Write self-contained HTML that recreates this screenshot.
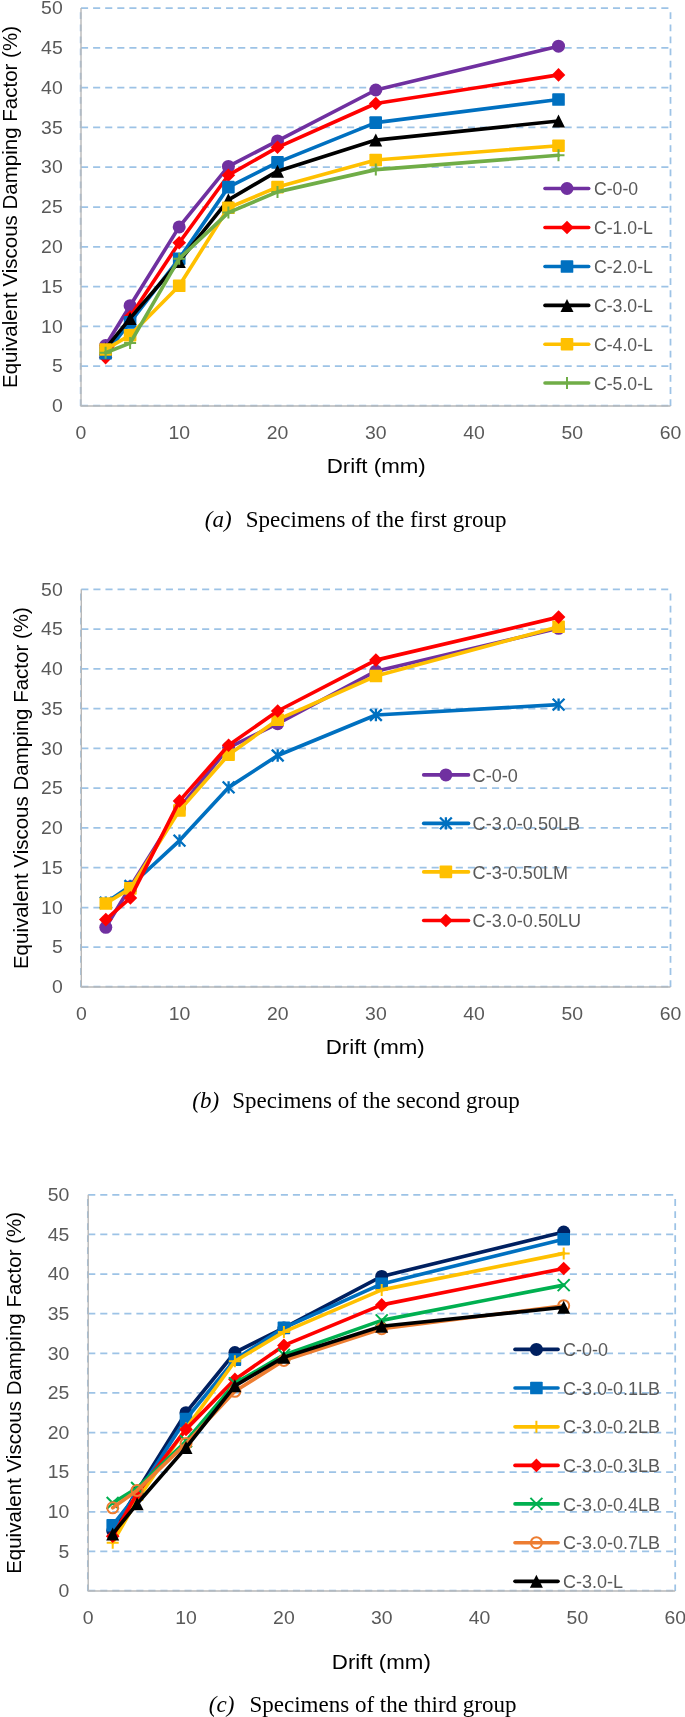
<!DOCTYPE html>
<html><head><meta charset="utf-8"><title>Equivalent Viscous Damping Factor</title>
<style>html,body{margin:0;padding:0;background:#fff;width:685px;height:1717px;overflow:hidden}svg{display:block;will-change:transform}</style>
</head><body>
<svg width="685" height="1717" viewBox="0 0 685 1717"><g stroke="#9DC3E6" stroke-width="1.75" fill="none"><g stroke-dasharray="7.1 4.99"><line x1="81.0" y1="405.6" x2="669.9" y2="405.6"/><line x1="81.0" y1="366.2" x2="669.9" y2="366.2"/><line x1="81.0" y1="326.4" x2="669.9" y2="326.4"/><line x1="81.0" y1="286.6" x2="669.9" y2="286.6"/><line x1="81.0" y1="246.8" x2="669.9" y2="246.8"/><line x1="81.0" y1="207.0" x2="669.9" y2="207.0"/><line x1="81.0" y1="167.2" x2="669.9" y2="167.2"/><line x1="81.0" y1="127.4" x2="669.9" y2="127.4"/><line x1="81.0" y1="87.6" x2="669.9" y2="87.6"/><line x1="81.0" y1="47.8" x2="669.9" y2="47.8"/><line x1="81.0" y1="8.0" x2="669.9" y2="8.0"/></g><line x1="670.5" y1="8.0" x2="670.5" y2="406.0" stroke-dasharray="6.8 5.29" stroke-dashoffset="7.79"/><line x1="80.65" y1="8.0" x2="80.65" y2="406.0" stroke-dasharray="6.8 5.29" stroke-dashoffset="7.79"/></g>
<path d="M81.0 8.0V406.0H670.5" stroke="#B8B8B8" stroke-width="1.4" fill="none"/>
<g fill="#595959" style="font-family:'Liberation Sans',sans-serif;font-size:18.5px"><text transform="translate(62.7,412.2) scale(1.05,1)" text-anchor="end">0</text><text transform="translate(62.7,372.4) scale(1.05,1)" text-anchor="end">5</text><text transform="translate(62.7,332.6) scale(1.05,1)" text-anchor="end">10</text><text transform="translate(62.7,292.8) scale(1.05,1)" text-anchor="end">15</text><text transform="translate(62.7,253.0) scale(1.05,1)" text-anchor="end">20</text><text transform="translate(62.7,213.2) scale(1.05,1)" text-anchor="end">25</text><text transform="translate(62.7,173.4) scale(1.05,1)" text-anchor="end">30</text><text transform="translate(62.7,133.6) scale(1.05,1)" text-anchor="end">35</text><text transform="translate(62.7,93.8) scale(1.05,1)" text-anchor="end">40</text><text transform="translate(62.7,54.0) scale(1.05,1)" text-anchor="end">45</text><text transform="translate(62.7,14.2) scale(1.05,1)" text-anchor="end">50</text><text transform="translate(81.0,438.7) scale(1.05,1)" text-anchor="middle">0</text><text transform="translate(179.2,438.7) scale(1.05,1)" text-anchor="middle">10</text><text transform="translate(277.5,438.7) scale(1.05,1)" text-anchor="middle">20</text><text transform="translate(375.8,438.7) scale(1.05,1)" text-anchor="middle">30</text><text transform="translate(474.0,438.7) scale(1.05,1)" text-anchor="middle">40</text><text transform="translate(572.2,438.7) scale(1.05,1)" text-anchor="middle">50</text><text transform="translate(670.5,438.7) scale(1.05,1)" text-anchor="middle">60</text></g>
<polyline points="105.6,345.5 130.1,305.7 179.2,226.9 228.4,166.4 277.5,140.9 375.8,90.0 558.5,46.2" fill="none" stroke="#7030A0" stroke-width="3.65" stroke-linejoin="round" stroke-linecap="round"/>
<circle cx="105.6" cy="345.5" r="6.50" fill="#7030A0"/><circle cx="130.1" cy="305.7" r="6.50" fill="#7030A0"/><circle cx="179.2" cy="226.9" r="6.50" fill="#7030A0"/><circle cx="228.4" cy="166.4" r="6.50" fill="#7030A0"/><circle cx="277.5" cy="140.9" r="6.50" fill="#7030A0"/><circle cx="375.8" cy="90.0" r="6.50" fill="#7030A0"/><circle cx="558.5" cy="46.2" r="6.50" fill="#7030A0"/>
<polyline points="105.6,357.6 130.1,316.8 179.2,242.8 228.4,175.2 277.5,147.3 375.8,103.5 558.5,74.9" fill="none" stroke="#FF0000" stroke-width="3.65" stroke-linejoin="round" stroke-linecap="round"/>
<polygon points="105.6,350.8 112.4,357.6 105.6,364.4 98.8,357.6" fill="#FF0000"/><polygon points="130.1,310.0 136.9,316.8 130.1,323.6 123.3,316.8" fill="#FF0000"/><polygon points="179.2,236.0 186.1,242.8 179.2,249.6 172.4,242.8" fill="#FF0000"/><polygon points="228.4,168.4 235.2,175.2 228.4,182.0 221.6,175.2" fill="#FF0000"/><polygon points="277.5,140.5 284.3,147.3 277.5,154.1 270.7,147.3" fill="#FF0000"/><polygon points="375.8,96.7 382.6,103.5 375.8,110.3 368.9,103.5" fill="#FF0000"/><polygon points="558.5,68.1 565.3,74.9 558.5,81.7 551.7,74.9" fill="#FF0000"/>
<polyline points="105.6,353.3 130.1,322.4 179.2,258.7 228.4,187.1 277.5,162.4 375.8,122.6 558.5,99.5" fill="none" stroke="#0070C0" stroke-width="3.65" stroke-linejoin="round" stroke-linecap="round"/>
<rect x="99.3" y="347.0" width="12.6" height="12.6" rx="0.9" fill="#0070C0"/><rect x="123.8" y="316.1" width="12.6" height="12.6" rx="0.9" fill="#0070C0"/><rect x="172.9" y="252.4" width="12.6" height="12.6" rx="0.9" fill="#0070C0"/><rect x="222.1" y="180.8" width="12.6" height="12.6" rx="0.9" fill="#0070C0"/><rect x="271.2" y="156.1" width="12.6" height="12.6" rx="0.9" fill="#0070C0"/><rect x="369.4" y="116.3" width="12.6" height="12.6" rx="0.9" fill="#0070C0"/><rect x="552.2" y="93.2" width="12.6" height="12.6" rx="0.9" fill="#0070C0"/>
<polyline points="105.6,348.7 130.1,318.4 179.2,261.5 228.4,199.8 277.5,171.2 375.8,140.1 558.5,121.0" fill="none" stroke="#000000" stroke-width="3.65" stroke-linejoin="round" stroke-linecap="round"/>
<polygon points="105.6,342.2 112.1,355.2 99.1,355.2" fill="#000000"/><polygon points="130.1,311.9 136.6,324.9 123.6,324.9" fill="#000000"/><polygon points="179.2,255.0 185.8,268.0 172.8,268.0" fill="#000000"/><polygon points="228.4,193.3 234.9,206.3 221.9,206.3" fill="#000000"/><polygon points="277.5,164.7 284.0,177.7 271.0,177.7" fill="#000000"/><polygon points="375.8,133.6 382.2,146.6 369.2,146.6" fill="#000000"/><polygon points="558.5,114.5 565.0,127.5 552.0,127.5" fill="#000000"/>
<polyline points="105.6,349.5 130.1,335.2 179.2,285.8 228.4,207.8 277.5,187.1 375.8,160.0 558.5,145.7" fill="none" stroke="#FFC000" stroke-width="3.65" stroke-linejoin="round" stroke-linecap="round"/>
<rect x="99.3" y="343.2" width="12.6" height="12.6" rx="0.9" fill="#FFC000"/><rect x="123.8" y="328.9" width="12.6" height="12.6" rx="0.9" fill="#FFC000"/><rect x="172.9" y="279.5" width="12.6" height="12.6" rx="0.9" fill="#FFC000"/><rect x="222.1" y="201.5" width="12.6" height="12.6" rx="0.9" fill="#FFC000"/><rect x="271.2" y="180.8" width="12.6" height="12.6" rx="0.9" fill="#FFC000"/><rect x="369.4" y="153.7" width="12.6" height="12.6" rx="0.9" fill="#FFC000"/><rect x="552.2" y="139.4" width="12.6" height="12.6" rx="0.9" fill="#FFC000"/>
<polyline points="105.6,352.7 130.1,343.1 179.2,258.7 228.4,212.6 277.5,191.9 375.8,169.6 558.5,155.3" fill="none" stroke="#70AD47" stroke-width="3.65" stroke-linejoin="round" stroke-linecap="round"/>
<path d="M99.6 352.7H111.6M105.6 346.7V358.7" stroke="#70AD47" stroke-width="2" fill="none"/><path d="M124.1 343.1H136.1M130.1 337.1V349.1" stroke="#70AD47" stroke-width="2" fill="none"/><path d="M173.2 258.7H185.2M179.2 252.7V264.7" stroke="#70AD47" stroke-width="2" fill="none"/><path d="M222.4 212.6H234.4M228.4 206.6V218.6" stroke="#70AD47" stroke-width="2" fill="none"/><path d="M271.5 191.9H283.5M277.5 185.9V197.9" stroke="#70AD47" stroke-width="2" fill="none"/><path d="M369.8 169.6H381.8M375.8 163.6V175.6" stroke="#70AD47" stroke-width="2" fill="none"/><path d="M552.5 155.3H564.5M558.5 149.3V161.3" stroke="#70AD47" stroke-width="2" fill="none"/>
<line x1="545.0" y1="188.5" x2="588.7" y2="188.5" stroke="#7030A0" stroke-width="3.65" stroke-linecap="round"/><circle cx="567.0" cy="188.5" r="6.50" fill="#7030A0"/><text transform="translate(594.0,195.1) scale(0.965,1)" fill="#595959" style="font-family:'Liberation Sans',sans-serif;font-size:18.3px">C-0-0</text><line x1="545.0" y1="227.5" x2="588.7" y2="227.5" stroke="#FF0000" stroke-width="3.65" stroke-linecap="round"/><polygon points="567.0,220.7 573.8,227.5 567.0,234.3 560.2,227.5" fill="#FF0000"/><text transform="translate(594.0,234.1) scale(0.965,1)" fill="#595959" style="font-family:'Liberation Sans',sans-serif;font-size:18.3px">C-1.0-L</text><line x1="545.0" y1="266.5" x2="588.7" y2="266.5" stroke="#0070C0" stroke-width="3.65" stroke-linecap="round"/><rect x="560.7" y="260.2" width="12.6" height="12.6" rx="0.9" fill="#0070C0"/><text transform="translate(594.0,273.1) scale(0.965,1)" fill="#595959" style="font-family:'Liberation Sans',sans-serif;font-size:18.3px">C-2.0-L</text><line x1="545.0" y1="305.4" x2="588.7" y2="305.4" stroke="#000000" stroke-width="3.65" stroke-linecap="round"/><polygon points="567.0,298.9 573.5,311.9 560.5,311.9" fill="#000000"/><text transform="translate(594.0,312.0) scale(0.965,1)" fill="#595959" style="font-family:'Liberation Sans',sans-serif;font-size:18.3px">C-3.0-L</text><line x1="545.0" y1="344.2" x2="588.7" y2="344.2" stroke="#FFC000" stroke-width="3.65" stroke-linecap="round"/><rect x="560.7" y="337.9" width="12.6" height="12.6" rx="0.9" fill="#FFC000"/><text transform="translate(594.0,350.8) scale(0.965,1)" fill="#595959" style="font-family:'Liberation Sans',sans-serif;font-size:18.3px">C-4.0-L</text><line x1="545.0" y1="383.0" x2="588.7" y2="383.0" stroke="#70AD47" stroke-width="3.65" stroke-linecap="round"/><path d="M561.0 383.0H573.0M567.0 377.0V389.0" stroke="#70AD47" stroke-width="2" fill="none"/><text transform="translate(594.0,389.6) scale(0.965,1)" fill="#595959" style="font-family:'Liberation Sans',sans-serif;font-size:18.3px">C-5.0-L</text>
<text transform="translate(376.2,473.0) scale(1.087,1)" text-anchor="middle" style="font-family:'Liberation Sans',sans-serif;font-size:20.5px">Drift (mm)</text>
<text transform="translate(16.9,207.0) rotate(-90)" text-anchor="middle" style="font-family:'Liberation Sans',sans-serif;font-size:20.5px">Equivalent Viscous Damping Factor (%)</text>
<text x="204.8" y="527.0" style="font-family:'Liberation Serif',serif;font-size:23px;font-style:italic">(a)</text>
<text x="245.8" y="527.0" style="font-family:'Liberation Serif',serif;font-size:23px">Specimens of the first group</text>
<g stroke="#9DC3E6" stroke-width="1.75" fill="none"><g stroke-dasharray="7.1 4.98"><line x1="81.3" y1="986.6" x2="669.9" y2="986.6"/><line x1="81.3" y1="947.2" x2="669.9" y2="947.2"/><line x1="81.3" y1="907.5" x2="669.9" y2="907.5"/><line x1="81.3" y1="867.7" x2="669.9" y2="867.7"/><line x1="81.3" y1="827.9" x2="669.9" y2="827.9"/><line x1="81.3" y1="788.1" x2="669.9" y2="788.1"/><line x1="81.3" y1="748.4" x2="669.9" y2="748.4"/><line x1="81.3" y1="708.6" x2="669.9" y2="708.6"/><line x1="81.3" y1="668.8" x2="669.9" y2="668.8"/><line x1="81.3" y1="629.1" x2="669.9" y2="629.1"/><line x1="81.3" y1="589.3" x2="669.9" y2="589.3"/></g><line x1="670.5" y1="589.3" x2="670.5" y2="987.0" stroke-dasharray="6.8 5.28" stroke-dashoffset="7.78"/><line x1="80.95" y1="589.3" x2="80.95" y2="987.0" stroke-dasharray="6.8 5.28" stroke-dashoffset="7.78"/></g>
<path d="M81.3 589.3V987.0H670.5" stroke="#B8B8B8" stroke-width="1.4" fill="none"/>
<g fill="#595959" style="font-family:'Liberation Sans',sans-serif;font-size:18.5px"><text transform="translate(62.7,993.2) scale(1.05,1)" text-anchor="end">0</text><text transform="translate(62.7,953.4) scale(1.05,1)" text-anchor="end">5</text><text transform="translate(62.7,913.7) scale(1.05,1)" text-anchor="end">10</text><text transform="translate(62.7,873.9) scale(1.05,1)" text-anchor="end">15</text><text transform="translate(62.7,834.1) scale(1.05,1)" text-anchor="end">20</text><text transform="translate(62.7,794.4) scale(1.05,1)" text-anchor="end">25</text><text transform="translate(62.7,754.6) scale(1.05,1)" text-anchor="end">30</text><text transform="translate(62.7,714.8) scale(1.05,1)" text-anchor="end">35</text><text transform="translate(62.7,675.0) scale(1.05,1)" text-anchor="end">40</text><text transform="translate(62.7,635.3) scale(1.05,1)" text-anchor="end">45</text><text transform="translate(62.7,595.5) scale(1.05,1)" text-anchor="end">50</text><text transform="translate(81.3,1019.7) scale(1.05,1)" text-anchor="middle">0</text><text transform="translate(179.5,1019.7) scale(1.05,1)" text-anchor="middle">10</text><text transform="translate(277.7,1019.7) scale(1.05,1)" text-anchor="middle">20</text><text transform="translate(375.9,1019.7) scale(1.05,1)" text-anchor="middle">30</text><text transform="translate(474.1,1019.7) scale(1.05,1)" text-anchor="middle">40</text><text transform="translate(572.3,1019.7) scale(1.05,1)" text-anchor="middle">50</text><text transform="translate(670.5,1019.7) scale(1.05,1)" text-anchor="middle">60</text></g>
<polyline points="105.8,927.3 130.4,886.8 179.5,808.0 228.6,747.6 277.7,723.7 375.9,671.2 558.6,628.3" fill="none" stroke="#7030A0" stroke-width="3.65" stroke-linejoin="round" stroke-linecap="round"/>
<circle cx="105.8" cy="927.3" r="6.50" fill="#7030A0"/><circle cx="130.4" cy="886.8" r="6.50" fill="#7030A0"/><circle cx="179.5" cy="808.0" r="6.50" fill="#7030A0"/><circle cx="228.6" cy="747.6" r="6.50" fill="#7030A0"/><circle cx="277.7" cy="723.7" r="6.50" fill="#7030A0"/><circle cx="375.9" cy="671.2" r="6.50" fill="#7030A0"/><circle cx="558.6" cy="628.3" r="6.50" fill="#7030A0"/>
<polyline points="105.8,902.7 130.4,886.0 179.5,840.6 228.6,787.4 277.7,755.5 375.9,715.0 558.6,704.6" fill="none" stroke="#0070C0" stroke-width="3.65" stroke-linejoin="round" stroke-linecap="round"/>
<path d="M99.9 896.8L111.8 908.6M111.8 896.8L99.9 908.6M105.8 896.5V908.9" stroke="#0070C0" stroke-width="2.3" fill="none"/><path d="M124.5 880.1L136.3 891.9M136.3 880.1L124.5 891.9M130.4 879.8V892.2" stroke="#0070C0" stroke-width="2.3" fill="none"/><path d="M173.6 834.7L185.4 846.5M185.4 834.7L173.6 846.5M179.5 834.4V846.8" stroke="#0070C0" stroke-width="2.3" fill="none"/><path d="M222.7 781.5L234.5 793.3M234.5 781.5L222.7 793.3M228.6 781.2V793.6" stroke="#0070C0" stroke-width="2.3" fill="none"/><path d="M271.8 749.6L283.6 761.4M283.6 749.6L271.8 761.4M277.7 749.3V761.7" stroke="#0070C0" stroke-width="2.3" fill="none"/><path d="M370.0 709.1L381.8 720.9M381.8 709.1L370.0 720.9M375.9 708.8V721.2" stroke="#0070C0" stroke-width="2.3" fill="none"/><path d="M552.7 698.7L564.5 710.5M564.5 698.7L552.7 710.5M558.6 698.4V710.8" stroke="#0070C0" stroke-width="2.3" fill="none"/>
<polyline points="105.8,903.5 130.4,888.4 179.5,810.4 228.6,754.7 277.7,719.7 375.9,676.0 558.6,626.7" fill="none" stroke="#FFC000" stroke-width="3.65" stroke-linejoin="round" stroke-linecap="round"/>
<rect x="99.5" y="897.2" width="12.6" height="12.6" rx="0.9" fill="#FFC000"/><rect x="124.1" y="882.1" width="12.6" height="12.6" rx="0.9" fill="#FFC000"/><rect x="173.2" y="804.1" width="12.6" height="12.6" rx="0.9" fill="#FFC000"/><rect x="222.3" y="748.4" width="12.6" height="12.6" rx="0.9" fill="#FFC000"/><rect x="271.4" y="713.4" width="12.6" height="12.6" rx="0.9" fill="#FFC000"/><rect x="369.6" y="669.7" width="12.6" height="12.6" rx="0.9" fill="#FFC000"/><rect x="552.3" y="620.4" width="12.6" height="12.6" rx="0.9" fill="#FFC000"/>
<polyline points="105.8,919.6 130.4,897.9 179.5,800.9 228.6,745.2 277.7,711.0 375.9,660.1 558.6,617.1" fill="none" stroke="#FF0000" stroke-width="3.65" stroke-linejoin="round" stroke-linecap="round"/>
<polygon points="105.8,912.8 112.6,919.6 105.8,926.4 99.0,919.6" fill="#FF0000"/><polygon points="130.4,891.1 137.2,897.9 130.4,904.7 123.6,897.9" fill="#FF0000"/><polygon points="179.5,794.1 186.3,800.9 179.5,807.7 172.7,800.9" fill="#FF0000"/><polygon points="228.6,738.4 235.4,745.2 228.6,752.0 221.8,745.2" fill="#FF0000"/><polygon points="277.7,704.2 284.5,711.0 277.7,717.8 270.9,711.0" fill="#FF0000"/><polygon points="375.9,653.3 382.7,660.1 375.9,666.9 369.1,660.1" fill="#FF0000"/><polygon points="558.6,610.3 565.4,617.1 558.6,623.9 551.8,617.1" fill="#FF0000"/>
<line x1="423.7" y1="774.9" x2="468.5" y2="774.9" stroke="#7030A0" stroke-width="3.65" stroke-linecap="round"/><circle cx="445.9" cy="774.9" r="6.50" fill="#7030A0"/><text transform="translate(472.6,781.5) scale(0.988,1)" fill="#595959" style="font-family:'Liberation Sans',sans-serif;font-size:18.3px">C-0-0</text><line x1="423.7" y1="823.4" x2="468.5" y2="823.4" stroke="#0070C0" stroke-width="3.65" stroke-linecap="round"/><path d="M440.0 817.5L451.8 829.3M451.8 817.5L440.0 829.3M445.9 817.2V829.6" stroke="#0070C0" stroke-width="2.3" fill="none"/><text transform="translate(472.6,830.0) scale(0.988,1)" fill="#595959" style="font-family:'Liberation Sans',sans-serif;font-size:18.3px">C-3.0-0.50LB</text><line x1="423.7" y1="871.9" x2="468.5" y2="871.9" stroke="#FFC000" stroke-width="3.65" stroke-linecap="round"/><rect x="439.6" y="865.6" width="12.6" height="12.6" rx="0.9" fill="#FFC000"/><text transform="translate(472.6,878.5) scale(0.988,1)" fill="#595959" style="font-family:'Liberation Sans',sans-serif;font-size:18.3px">C-3-0.50LM</text><line x1="423.7" y1="920.5" x2="468.5" y2="920.5" stroke="#FF0000" stroke-width="3.65" stroke-linecap="round"/><polygon points="445.9,913.7 452.7,920.5 445.9,927.3 439.1,920.5" fill="#FF0000"/><text transform="translate(472.6,927.1) scale(0.988,1)" fill="#595959" style="font-family:'Liberation Sans',sans-serif;font-size:18.3px">C-3.0-0.50LU</text>
<text transform="translate(375.2,1053.7) scale(1.087,1)" text-anchor="middle" style="font-family:'Liberation Sans',sans-serif;font-size:20.5px">Drift (mm)</text>
<text transform="translate(28.1,788.1) rotate(-90)" text-anchor="middle" style="font-family:'Liberation Sans',sans-serif;font-size:20.5px">Equivalent Viscous Damping Factor (%)</text>
<text x="192.3" y="1108.4" style="font-family:'Liberation Serif',serif;font-size:23px;font-style:italic">(b)</text>
<text x="232.3" y="1108.4" style="font-family:'Liberation Serif',serif;font-size:23px">Specimens of the second group</text>
<g stroke="#9DC3E6" stroke-width="1.75" fill="none"><g stroke-dasharray="7.1 4.94"><line x1="88.2" y1="1590.7" x2="674.6" y2="1590.7"/><line x1="88.2" y1="1551.4" x2="674.6" y2="1551.4"/><line x1="88.2" y1="1511.8" x2="674.6" y2="1511.8"/><line x1="88.2" y1="1472.1" x2="674.6" y2="1472.1"/><line x1="88.2" y1="1432.5" x2="674.6" y2="1432.5"/><line x1="88.2" y1="1392.9" x2="674.6" y2="1392.9"/><line x1="88.2" y1="1353.3" x2="674.6" y2="1353.3"/><line x1="88.2" y1="1313.7" x2="674.6" y2="1313.7"/><line x1="88.2" y1="1274.0" x2="674.6" y2="1274.0"/><line x1="88.2" y1="1234.4" x2="674.6" y2="1234.4"/><line x1="88.2" y1="1194.8" x2="674.6" y2="1194.8"/></g><line x1="675.2" y1="1194.8" x2="675.2" y2="1591.0" stroke-dasharray="6.8 5.24" stroke-dashoffset="7.74"/><line x1="87.85" y1="1194.8" x2="87.85" y2="1591.0" stroke-dasharray="6.8 5.24" stroke-dashoffset="7.74"/></g>
<path d="M88.2 1194.8V1591.0H675.2" stroke="#B8B8B8" stroke-width="1.4" fill="none"/>
<g fill="#595959" style="font-family:'Liberation Sans',sans-serif;font-size:18.5px"><text transform="translate(69.4,1597.2) scale(1.05,1)" text-anchor="end">0</text><text transform="translate(69.4,1557.6) scale(1.05,1)" text-anchor="end">5</text><text transform="translate(69.4,1518.0) scale(1.05,1)" text-anchor="end">10</text><text transform="translate(69.4,1478.3) scale(1.05,1)" text-anchor="end">15</text><text transform="translate(69.4,1438.7) scale(1.05,1)" text-anchor="end">20</text><text transform="translate(69.4,1399.1) scale(1.05,1)" text-anchor="end">25</text><text transform="translate(69.4,1359.5) scale(1.05,1)" text-anchor="end">30</text><text transform="translate(69.4,1319.9) scale(1.05,1)" text-anchor="end">35</text><text transform="translate(69.4,1280.2) scale(1.05,1)" text-anchor="end">40</text><text transform="translate(69.4,1240.6) scale(1.05,1)" text-anchor="end">45</text><text transform="translate(69.4,1201.0) scale(1.05,1)" text-anchor="end">50</text><text transform="translate(88.2,1623.9) scale(1.05,1)" text-anchor="middle">0</text><text transform="translate(186.0,1623.9) scale(1.05,1)" text-anchor="middle">10</text><text transform="translate(283.9,1623.9) scale(1.05,1)" text-anchor="middle">20</text><text transform="translate(381.7,1623.9) scale(1.05,1)" text-anchor="middle">30</text><text transform="translate(479.5,1623.9) scale(1.05,1)" text-anchor="middle">40</text><text transform="translate(577.4,1623.9) scale(1.05,1)" text-anchor="middle">50</text><text transform="translate(675.2,1623.9) scale(1.05,1)" text-anchor="middle">60</text></g>
<polyline points="112.7,1530.8 137.1,1491.2 186.0,1412.7 234.9,1352.5 283.9,1327.9 381.7,1276.4 563.7,1232.0" fill="none" stroke="#002060" stroke-width="3.65" stroke-linejoin="round" stroke-linecap="round"/>
<circle cx="112.7" cy="1530.8" r="6.50" fill="#002060"/><circle cx="137.1" cy="1491.2" r="6.50" fill="#002060"/><circle cx="186.0" cy="1412.7" r="6.50" fill="#002060"/><circle cx="234.9" cy="1352.5" r="6.50" fill="#002060"/><circle cx="283.9" cy="1327.9" r="6.50" fill="#002060"/><circle cx="381.7" cy="1276.4" r="6.50" fill="#002060"/><circle cx="563.7" cy="1232.0" r="6.50" fill="#002060"/>
<polyline points="112.7,1525.2 137.1,1494.3 186.0,1419.0 234.9,1359.6 283.9,1327.9 381.7,1283.9 563.7,1239.2" fill="none" stroke="#0070C0" stroke-width="3.65" stroke-linejoin="round" stroke-linecap="round"/>
<rect x="106.4" y="1518.9" width="12.6" height="12.6" rx="0.9" fill="#0070C0"/><rect x="130.8" y="1488.0" width="12.6" height="12.6" rx="0.9" fill="#0070C0"/><rect x="179.7" y="1412.7" width="12.6" height="12.6" rx="0.9" fill="#0070C0"/><rect x="228.6" y="1353.3" width="12.6" height="12.6" rx="0.9" fill="#0070C0"/><rect x="277.6" y="1321.6" width="12.6" height="12.6" rx="0.9" fill="#0070C0"/><rect x="375.4" y="1277.6" width="12.6" height="12.6" rx="0.9" fill="#0070C0"/><rect x="557.4" y="1232.9" width="12.6" height="12.6" rx="0.9" fill="#0070C0"/>
<polyline points="112.7,1542.7 137.1,1499.9 186.0,1428.6 234.9,1361.2 283.9,1331.9 381.7,1289.9 563.7,1253.4" fill="none" stroke="#FFC000" stroke-width="3.65" stroke-linejoin="round" stroke-linecap="round"/>
<path d="M106.7 1542.7H118.7M112.7 1536.7V1548.7" stroke="#FFC000" stroke-width="2" fill="none"/><path d="M131.1 1499.9H143.1M137.1 1493.9V1505.9" stroke="#FFC000" stroke-width="2" fill="none"/><path d="M180.0 1428.6H192.0M186.0 1422.6V1434.6" stroke="#FFC000" stroke-width="2" fill="none"/><path d="M228.9 1361.2H240.9M234.9 1355.2V1367.2" stroke="#FFC000" stroke-width="2" fill="none"/><path d="M277.9 1331.9H289.9M283.9 1325.9V1337.9" stroke="#FFC000" stroke-width="2" fill="none"/><path d="M375.7 1289.9H387.7M381.7 1283.9V1295.9" stroke="#FFC000" stroke-width="2" fill="none"/><path d="M557.7 1253.4H569.7M563.7 1247.4V1259.4" stroke="#FFC000" stroke-width="2" fill="none"/>
<polyline points="112.7,1536.3 137.1,1493.5 186.0,1429.4 234.9,1379.4 283.9,1345.4 381.7,1304.9 563.7,1268.5" fill="none" stroke="#FF0000" stroke-width="3.65" stroke-linejoin="round" stroke-linecap="round"/>
<polygon points="112.7,1529.5 119.5,1536.3 112.7,1543.1 105.9,1536.3" fill="#FF0000"/><polygon points="137.1,1486.7 143.9,1493.5 137.1,1500.3 130.3,1493.5" fill="#FF0000"/><polygon points="186.0,1422.6 192.8,1429.4 186.0,1436.2 179.2,1429.4" fill="#FF0000"/><polygon points="234.9,1372.6 241.8,1379.4 234.9,1386.2 228.1,1379.4" fill="#FF0000"/><polygon points="283.9,1338.6 290.7,1345.4 283.9,1352.2 277.1,1345.4" fill="#FF0000"/><polygon points="381.7,1298.1 388.5,1304.9 381.7,1311.7 374.9,1304.9" fill="#FF0000"/><polygon points="563.7,1261.7 570.5,1268.5 563.7,1275.3 556.9,1268.5" fill="#FF0000"/>
<polyline points="112.7,1503.0 137.1,1488.0 186.0,1441.2 234.9,1383.4 283.9,1354.9 381.7,1320.4 563.7,1285.1" fill="none" stroke="#00B050" stroke-width="3.65" stroke-linejoin="round" stroke-linecap="round"/>
<path d="M106.7 1497.0L118.7 1509.0M118.7 1497.0L106.7 1509.0" stroke="#00B050" stroke-width="2" fill="none"/><path d="M131.1 1482.0L143.1 1494.0M143.1 1482.0L131.1 1494.0" stroke="#00B050" stroke-width="2" fill="none"/><path d="M180.0 1435.2L192.0 1447.2M192.0 1435.2L180.0 1447.2" stroke="#00B050" stroke-width="2" fill="none"/><path d="M228.9 1377.4L240.9 1389.4M240.9 1377.4L228.9 1389.4" stroke="#00B050" stroke-width="2" fill="none"/><path d="M277.9 1348.9L289.9 1360.9M289.9 1348.9L277.9 1360.9" stroke="#00B050" stroke-width="2" fill="none"/><path d="M375.7 1314.4L387.7 1326.4M387.7 1314.4L375.7 1326.4" stroke="#00B050" stroke-width="2" fill="none"/><path d="M557.7 1279.1L569.7 1291.1M569.7 1279.1L557.7 1291.1" stroke="#00B050" stroke-width="2" fill="none"/>
<polyline points="112.7,1507.8 137.1,1490.4 186.0,1443.6 234.9,1391.3 283.9,1360.4 381.7,1328.7 563.7,1305.7" fill="none" stroke="#ED7D31" stroke-width="3.65" stroke-linejoin="round" stroke-linecap="round"/>
<circle cx="112.7" cy="1507.8" r="5.50" fill="none" stroke="#ED7D31" stroke-width="2.0"/><circle cx="137.1" cy="1490.4" r="5.50" fill="none" stroke="#ED7D31" stroke-width="2.0"/><circle cx="186.0" cy="1443.6" r="5.50" fill="none" stroke="#ED7D31" stroke-width="2.0"/><circle cx="234.9" cy="1391.3" r="5.50" fill="none" stroke="#ED7D31" stroke-width="2.0"/><circle cx="283.9" cy="1360.4" r="5.50" fill="none" stroke="#ED7D31" stroke-width="2.0"/><circle cx="381.7" cy="1328.7" r="5.50" fill="none" stroke="#ED7D31" stroke-width="2.0"/><circle cx="563.7" cy="1305.7" r="5.50" fill="none" stroke="#ED7D31" stroke-width="2.0"/>
<polyline points="112.7,1533.9 137.1,1503.8 186.0,1447.6 234.9,1385.8 283.9,1357.2 381.7,1326.3 563.7,1307.3" fill="none" stroke="#000000" stroke-width="3.65" stroke-linejoin="round" stroke-linecap="round"/>
<polygon points="112.7,1527.4 119.2,1540.4 106.2,1540.4" fill="#000000"/><polygon points="137.1,1497.3 143.6,1510.3 130.6,1510.3" fill="#000000"/><polygon points="186.0,1441.1 192.5,1454.1 179.5,1454.1" fill="#000000"/><polygon points="234.9,1379.3 241.4,1392.3 228.4,1392.3" fill="#000000"/><polygon points="283.9,1350.7 290.4,1363.7 277.4,1363.7" fill="#000000"/><polygon points="381.7,1319.8 388.2,1332.8 375.2,1332.8" fill="#000000"/><polygon points="563.7,1300.8 570.2,1313.8 557.2,1313.8" fill="#000000"/>
<line x1="515.0" y1="1349.4" x2="558.0" y2="1349.4" stroke="#002060" stroke-width="3.65" stroke-linecap="round"/><circle cx="536.4" cy="1349.4" r="6.50" fill="#002060"/><text transform="translate(563.1,1356.0) scale(0.984,1)" fill="#595959" style="font-family:'Liberation Sans',sans-serif;font-size:18.3px">C-0-0</text><line x1="515.0" y1="1388.0" x2="558.0" y2="1388.0" stroke="#0070C0" stroke-width="3.65" stroke-linecap="round"/><rect x="530.1" y="1381.7" width="12.6" height="12.6" rx="0.9" fill="#0070C0"/><text transform="translate(563.1,1394.6) scale(0.984,1)" fill="#595959" style="font-family:'Liberation Sans',sans-serif;font-size:18.3px">C-3.0-0.1LB</text><line x1="515.0" y1="1426.8" x2="558.0" y2="1426.8" stroke="#FFC000" stroke-width="3.65" stroke-linecap="round"/><path d="M530.4 1426.8H542.4M536.4 1420.8V1432.8" stroke="#FFC000" stroke-width="2" fill="none"/><text transform="translate(563.1,1433.4) scale(0.984,1)" fill="#595959" style="font-family:'Liberation Sans',sans-serif;font-size:18.3px">C-3.0-0.2LB</text><line x1="515.0" y1="1465.4" x2="558.0" y2="1465.4" stroke="#FF0000" stroke-width="3.65" stroke-linecap="round"/><polygon points="536.4,1458.6 543.2,1465.4 536.4,1472.2 529.6,1465.4" fill="#FF0000"/><text transform="translate(563.1,1472.0) scale(0.984,1)" fill="#595959" style="font-family:'Liberation Sans',sans-serif;font-size:18.3px">C-3.0-0.3LB</text><line x1="515.0" y1="1503.9" x2="558.0" y2="1503.9" stroke="#00B050" stroke-width="3.65" stroke-linecap="round"/><path d="M530.4 1497.9L542.4 1509.9M542.4 1497.9L530.4 1509.9" stroke="#00B050" stroke-width="2" fill="none"/><text transform="translate(563.1,1510.5) scale(0.984,1)" fill="#595959" style="font-family:'Liberation Sans',sans-serif;font-size:18.3px">C-3.0-0.4LB</text><line x1="515.0" y1="1542.7" x2="558.0" y2="1542.7" stroke="#ED7D31" stroke-width="3.65" stroke-linecap="round"/><circle cx="536.4" cy="1542.7" r="5.50" fill="none" stroke="#ED7D31" stroke-width="2.0"/><text transform="translate(563.1,1549.3) scale(0.984,1)" fill="#595959" style="font-family:'Liberation Sans',sans-serif;font-size:18.3px">C-3.0-0.7LB</text><line x1="515.0" y1="1581.3" x2="558.0" y2="1581.3" stroke="#000000" stroke-width="3.65" stroke-linecap="round"/><polygon points="536.4,1574.8 542.9,1587.8 529.9,1587.8" fill="#000000"/><text transform="translate(563.1,1587.9) scale(0.984,1)" fill="#595959" style="font-family:'Liberation Sans',sans-serif;font-size:18.3px">C-3.0-L</text>
<text transform="translate(381.3,1668.9) scale(1.087,1)" text-anchor="middle" style="font-family:'Liberation Sans',sans-serif;font-size:20.5px">Drift (mm)</text>
<text transform="translate(21.2,1392.9) rotate(-90)" text-anchor="middle" style="font-family:'Liberation Sans',sans-serif;font-size:20.5px">Equivalent Viscous Damping Factor (%)</text>
<text x="208.8" y="1712.0" style="font-family:'Liberation Serif',serif;font-size:23px;font-style:italic">(c)</text>
<text x="249.5" y="1712.0" style="font-family:'Liberation Serif',serif;font-size:23px">Specimens of the third group</text></svg>
</body></html>
